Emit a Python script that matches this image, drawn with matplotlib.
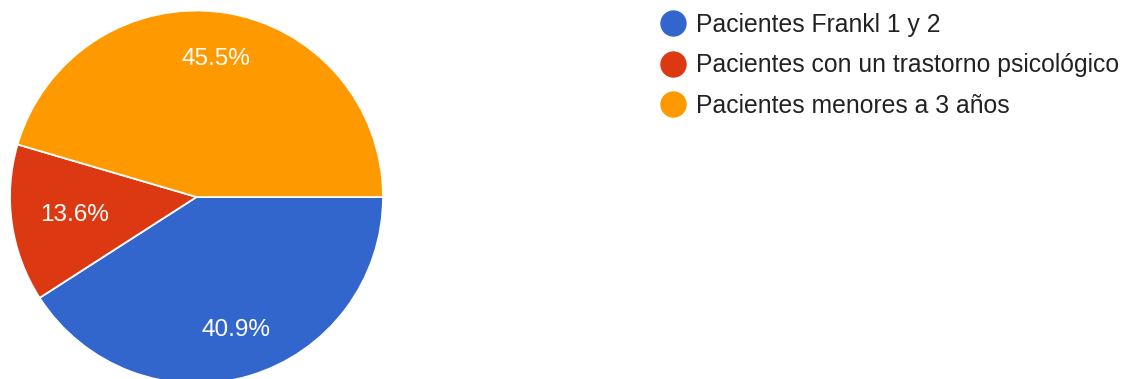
import numpy as np
import matplotlib
matplotlib.use("Agg")
import matplotlib.pyplot as plt
from matplotlib.lines import Line2D

categories = ["Pacientes Frankl 1 y 2",
              "Pacientes con un trastorno psicológico",
              "Pacientes menores a 3 años"]
counts = [9, 3, 10]
colors = ["#3366cc", "#dc3912", "#ff9900"]

plt.rcParams["font.family"] = ["Liberation Sans", "DejaVu Sans"]

W, H = 1127, 379
fig = plt.figure(figsize=(W / 100, H / 100), dpi=100)
ax = fig.add_axes([0, 0, 1, 1])

cx, cy, r = 196.5, H - 197, 186.5
wedges, texts, autotexts = ax.pie(
    counts, colors=colors, startangle=0, counterclock=False,
    center=(cx, cy), radius=r, autopct="%1.1f%%", pctdistance=0.74,
    wedgeprops=dict(edgecolor="white", linewidth=1.3),
    textprops=dict(color="white", fontsize=17.5))

# pull the small slice's label closer to the centre
for w, t in zip(wedges, autotexts):
    ang = np.deg2rad((w.theta1 + w.theta2) / 2)
    frac = 0.66 if (w.theta2 - w.theta1) < 60 else 0.745
    t.set_position((cx + frac * r * np.cos(ang), cy + frac * r * np.sin(ang)))

ax.set_xlim(0, W)
ax.set_ylim(0, H)
ax.set_aspect("equal")
ax.axis("off")

handles = [Line2D([], [], marker="o", linestyle="none", markersize=18,
                  markerfacecolor=c, markeredgecolor=c) for c in colors]
leg = ax.legend(handles, categories, loc="upper left",
                bbox_to_anchor=(661 / W, 1 - 13 / H), frameon=False,
                fontsize=17.8, labelspacing=0.66, handletextpad=0.4,
                handlelength=1.0, borderaxespad=0, borderpad=0)
for t in leg.get_texts():
    t.set_color("#222222")

fig.savefig("out.png", dpi=100)
